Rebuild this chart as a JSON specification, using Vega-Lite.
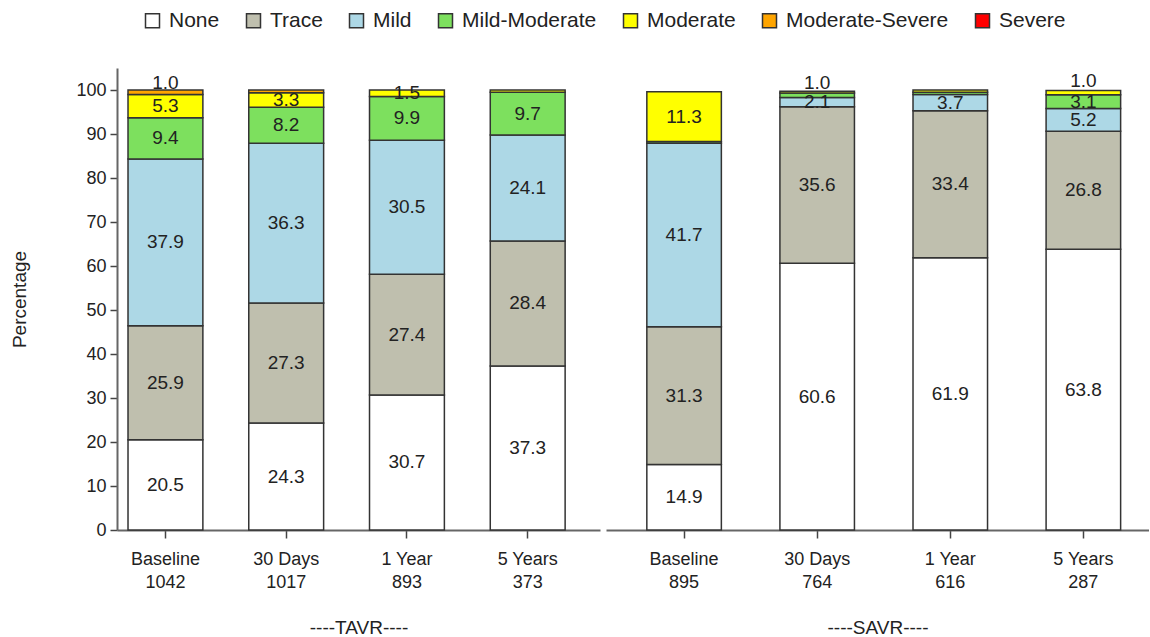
{
  "$schema": "https://vega.github.io/schema/vega-lite/v6.json",
  "padding": {"left": 10, "top": 10, "right": 0, "bottom": 0},
  "spacing": 6,
  "config": {
    "view": {"stroke": null},
    "font": "Liberation Sans",
    "axis": {"grid": false, "domainColor": "#666", "domainWidth": 2, "tickColor": "#444", "tickWidth": 1.5, "tickSize": 8, "labelFontSize": 18, "labelColor": "#222", "titleFontSize": 19, "titleFontWeight": "normal", "titleColor": "#222"},
    "legend": {"labelFontSize": 21, "labelColor": "#222", "labelLimit": 400, "symbolType": "square", "symbolSize": 196, "symbolStrokeColor": "#333", "symbolStrokeWidth": 1.5, "columnPadding": 23, "labelOffset": 6}
  },
  "resolve": {"scale": {"color": "shared", "y": "shared"}},
  "datasets": {
    "d": [
      {"group": "TAVR", "visit": "Baseline", "n": 1042, "grade": "None", "value": 20.5},
      {"group": "TAVR", "visit": "Baseline", "n": 1042, "grade": "Trace", "value": 25.9},
      {"group": "TAVR", "visit": "Baseline", "n": 1042, "grade": "Mild", "value": 37.9},
      {"group": "TAVR", "visit": "Baseline", "n": 1042, "grade": "Mild-Moderate", "value": 9.4},
      {"group": "TAVR", "visit": "Baseline", "n": 1042, "grade": "Moderate", "value": 5.3},
      {"group": "TAVR", "visit": "Baseline", "n": 1042, "grade": "Moderate-Severe", "value": 1.0},
      {"group": "TAVR", "visit": "30 Days", "n": 1017, "grade": "None", "value": 24.3},
      {"group": "TAVR", "visit": "30 Days", "n": 1017, "grade": "Trace", "value": 27.3},
      {"group": "TAVR", "visit": "30 Days", "n": 1017, "grade": "Mild", "value": 36.3},
      {"group": "TAVR", "visit": "30 Days", "n": 1017, "grade": "Mild-Moderate", "value": 8.2},
      {"group": "TAVR", "visit": "30 Days", "n": 1017, "grade": "Moderate", "value": 3.3},
      {"group": "TAVR", "visit": "30 Days", "n": 1017, "grade": "Moderate-Severe", "value": 0.6},
      {"group": "TAVR", "visit": "1 Year", "n": 893, "grade": "None", "value": 30.7},
      {"group": "TAVR", "visit": "1 Year", "n": 893, "grade": "Trace", "value": 27.4},
      {"group": "TAVR", "visit": "1 Year", "n": 893, "grade": "Mild", "value": 30.5},
      {"group": "TAVR", "visit": "1 Year", "n": 893, "grade": "Mild-Moderate", "value": 9.9},
      {"group": "TAVR", "visit": "1 Year", "n": 893, "grade": "Moderate", "value": 1.5},
      {"group": "TAVR", "visit": "5 Years", "n": 373, "grade": "None", "value": 37.3},
      {"group": "TAVR", "visit": "5 Years", "n": 373, "grade": "Trace", "value": 28.4},
      {"group": "TAVR", "visit": "5 Years", "n": 373, "grade": "Mild", "value": 24.1},
      {"group": "TAVR", "visit": "5 Years", "n": 373, "grade": "Mild-Moderate", "value": 9.7},
      {"group": "TAVR", "visit": "5 Years", "n": 373, "grade": "Moderate", "value": 0.5},
      {"group": "SAVR", "visit": "Baseline", "n": 895, "grade": "None", "value": 14.9},
      {"group": "SAVR", "visit": "Baseline", "n": 895, "grade": "Trace", "value": 31.3},
      {"group": "SAVR", "visit": "Baseline", "n": 895, "grade": "Mild", "value": 41.7},
      {"group": "SAVR", "visit": "Baseline", "n": 895, "grade": "Mild-Moderate", "value": 0.4},
      {"group": "SAVR", "visit": "Baseline", "n": 895, "grade": "Moderate", "value": 11.3},
      {"group": "SAVR", "visit": "30 Days", "n": 764, "grade": "None", "value": 60.6},
      {"group": "SAVR", "visit": "30 Days", "n": 764, "grade": "Trace", "value": 35.6},
      {"group": "SAVR", "visit": "30 Days", "n": 764, "grade": "Mild", "value": 2.1},
      {"group": "SAVR", "visit": "30 Days", "n": 764, "grade": "Mild-Moderate", "value": 1.0},
      {"group": "SAVR", "visit": "30 Days", "n": 764, "grade": "Moderate", "value": 0.4},
      {"group": "SAVR", "visit": "1 Year", "n": 616, "grade": "None", "value": 61.9},
      {"group": "SAVR", "visit": "1 Year", "n": 616, "grade": "Trace", "value": 33.4},
      {"group": "SAVR", "visit": "1 Year", "n": 616, "grade": "Mild", "value": 3.7},
      {"group": "SAVR", "visit": "1 Year", "n": 616, "grade": "Mild-Moderate", "value": 0.5},
      {"group": "SAVR", "visit": "1 Year", "n": 616, "grade": "Moderate", "value": 0.5},
      {"group": "SAVR", "visit": "5 Years", "n": 287, "grade": "None", "value": 63.8},
      {"group": "SAVR", "visit": "5 Years", "n": 287, "grade": "Trace", "value": 26.8},
      {"group": "SAVR", "visit": "5 Years", "n": 287, "grade": "Mild", "value": 5.2},
      {"group": "SAVR", "visit": "5 Years", "n": 287, "grade": "Mild-Moderate", "value": 3.1},
      {"group": "SAVR", "visit": "5 Years", "n": 287, "grade": "Moderate", "value": 1.0}
    ]
  },
  "hconcat": [
    {
      "width": 483,
      "height": 462,
      "data": {"name": "d"},
      "transform": [
        {"filter": "datum.group === 'TAVR'"},
        {"calculate": "indexof(['None','Trace','Mild','Mild-Moderate','Moderate','Moderate-Severe','Severe'], datum.grade)", "as": "ord"},
        {"stack": "value", "groupby": ["visit"], "sort": [{"field": "ord", "order": "ascending"}], "as": ["y0", "y1"]},
        {"calculate": "(datum.y0 + datum.y1) / 2", "as": "ymid"},
        {"calculate": "datum.visit + '|' + datum.n", "as": "xl"}
      ],
      "encoding": {
        "x": {"field": "xl", "type": "nominal", "sort": ["Baseline|1042", "30 Days|1017", "1 Year|893", "5 Years|373"],
          "scale": {"paddingInner": 0.38, "paddingOuter": 0.19, "align": 0.24},
          "axis": {"title": "----TAVR----", "labelExpr": "split(datum.label, '|')", "labelAngle": 0, "labelLineHeight": 23, "labelPadding": 12, "titlePadding": 27}}
      },
      "layer": [
        {
          "mark": {"type": "bar", "stroke": "#333", "strokeWidth": 1.5},
          "encoding": {
            "y": {"field": "y0", "type": "quantitative", "scale": {"domain": [0, 105], "nice": false},
              "axis": {"title": "Percentage", "values": [0, 10, 20, 30, 40, 50, 60, 70, 80, 90, 100], "tickSize": 7, "labelPadding": 4, "titlePadding": 46}},
            "y2": {"field": "y1"},
            "color": {"field": "grade", "type": "nominal",
              "scale": {"domain": ["None", "Trace", "Mild", "Mild-Moderate", "Moderate", "Moderate-Severe", "Severe"],
                "range": ["#FFFFFF", "#BFBFAE", "#ADD8E6", "#7DE05E", "#FFFF00", "#FFA500", "#FF0000"]},
              "legend": {"orient": "none", "legendX": 25, "legendY": -58, "direction": "horizontal", "title": null}}
          }
        },
        {
          "transform": [{"filter": "datum.value >= 1.3"}],
          "mark": {"type": "text", "fontSize": 19, "color": "#222"},
          "encoding": {
            "y": {"field": "ymid", "type": "quantitative"},
            "text": {"field": "value", "type": "quantitative", "format": ".1f"}
          }
        },
        {
          "transform": [{"filter": "datum.value >= 1 && datum.value < 1.3"}],
          "mark": {"type": "text", "fontSize": 19, "color": "#222", "dy": -9},
          "encoding": {
            "y": {"field": "ymid", "type": "quantitative"},
            "text": {"field": "value", "type": "quantitative", "format": ".1f"}
          }
        }
      ]
    },
    {
      "width": 543,
      "height": 462,
      "data": {"name": "d"},
      "transform": [
        {"filter": "datum.group === 'SAVR'"},
        {"calculate": "indexof(['None','Trace','Mild','Mild-Moderate','Moderate','Moderate-Severe','Severe'], datum.grade)", "as": "ord"},
        {"stack": "value", "groupby": ["visit"], "sort": [{"field": "ord", "order": "ascending"}], "as": ["y0", "y1"]},
        {"calculate": "(datum.y0 + datum.y1) / 2", "as": "ymid"},
        {"calculate": "datum.visit + '|' + datum.n", "as": "xl"}
      ],
      "encoding": {
        "x": {"field": "xl", "type": "nominal", "sort": ["Baseline|895", "30 Days|764", "1 Year|616", "5 Years|287"],
          "scale": {"paddingInner": 0.44, "paddingOuter": 0.26, "align": 0.59},
          "axis": {"title": "----SAVR----", "labelExpr": "split(datum.label, '|')", "labelAngle": 0, "labelLineHeight": 23, "labelPadding": 12, "titlePadding": 27}}
      },
      "layer": [
        {
          "mark": {"type": "bar", "stroke": "#333", "strokeWidth": 1.5},
          "encoding": {
            "y": {"field": "y0", "type": "quantitative", "scale": {"domain": [0, 105], "nice": false}, "axis": null},
            "y2": {"field": "y1"},
            "color": {"field": "grade", "type": "nominal",
              "scale": {"domain": ["None", "Trace", "Mild", "Mild-Moderate", "Moderate", "Moderate-Severe", "Severe"],
                "range": ["#FFFFFF", "#BFBFAE", "#ADD8E6", "#7DE05E", "#FFFF00", "#FFA500", "#FF0000"]},
              "legend": {"orient": "none", "legendX": 25, "legendY": -58, "direction": "horizontal", "title": null}}
          }
        },
        {
          "transform": [{"filter": "datum.value >= 1.3"}],
          "mark": {"type": "text", "fontSize": 19, "color": "#222"},
          "encoding": {
            "y": {"field": "ymid", "type": "quantitative"},
            "text": {"field": "value", "type": "quantitative", "format": ".1f"}
          }
        },
        {
          "transform": [{"filter": "datum.value >= 1 && datum.value < 1.3"}],
          "mark": {"type": "text", "fontSize": 19, "color": "#222", "dy": -12},
          "encoding": {
            "y": {"field": "ymid", "type": "quantitative"},
            "text": {"field": "value", "type": "quantitative", "format": ".1f"}
          }
        }
      ]
    }
  ]
}
